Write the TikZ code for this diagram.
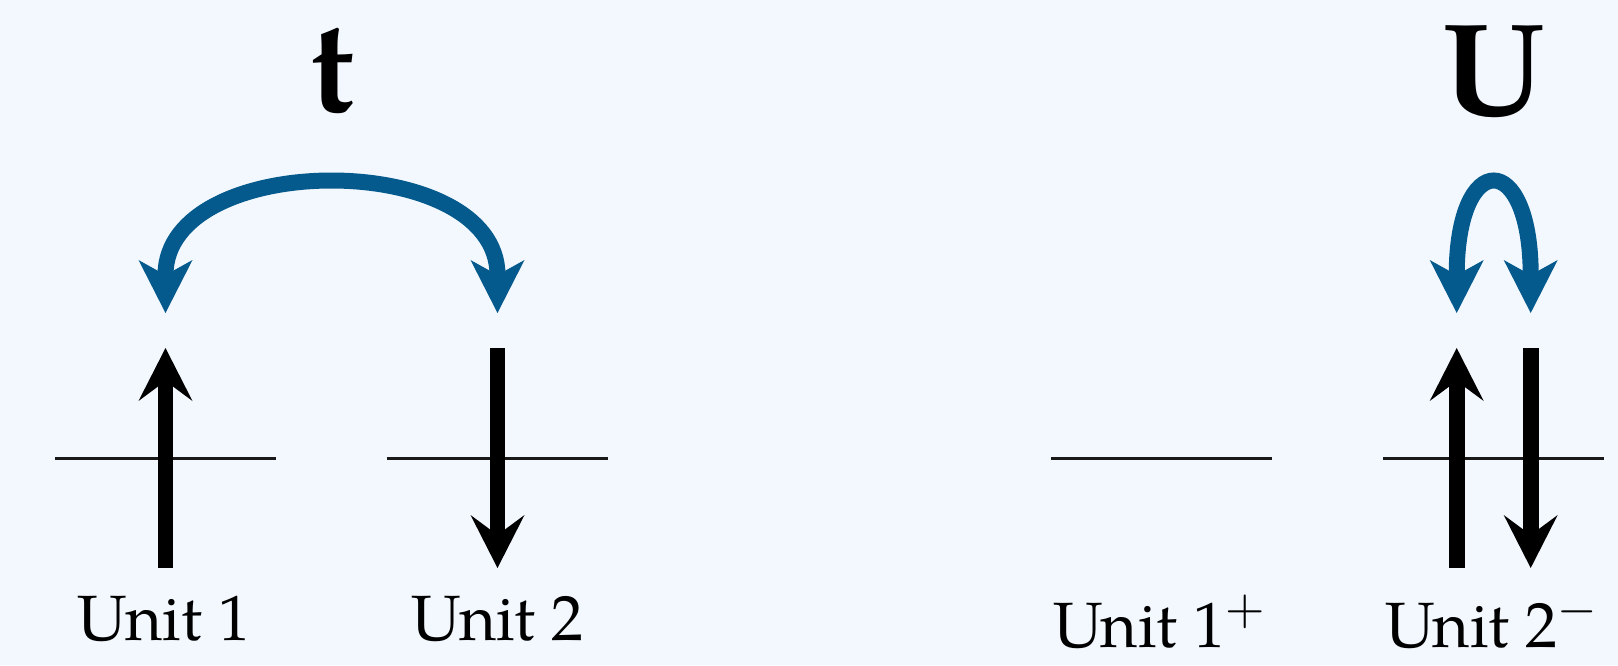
\documentclass[tikz,border=0pt]{standalone}
\usepackage{mathpazo}
\usepackage[no-math]{fontspec}
\setmainfont{TeX Gyre Pagella}
\usetikzlibrary{arrows.meta}
\definecolor{bgcol}{RGB}{243,248,254}
\definecolor{hopblue}{RGB}{4,90,141}
\begin{document}
\begin{tikzpicture}[x=0.5pt,y=-0.5pt,
  levelline/.style={line width=1.2pt,black!90},
  spin/.style={line width=7.8pt,-{Stealth[length=26.5pt,width=27pt,inset=10pt,line width=0pt]}},
  hop/.style={line width=8pt,hopblue,
    {Stealth[length=26.5pt,width=27pt,inset=7.5pt,line width=0pt]}-{Stealth[length=26.5pt,width=27pt,inset=7.5pt,line width=0pt]}},
  unitlabel/.style={anchor=base,inner sep=0pt,font=\fontsize{32}{38}\selectfont},
  biglabel/.style={anchor=base,inner sep=0pt,font=\fontsize{66}{72}\selectfont\bfseries}]
\fill[bgcol] (0,0) rectangle (1618,665);
\useasboundingbox (0,0) rectangle (1618,665);

% level end points
\coordinate (la1) at (55,458.3);   \coordinate (lb1) at (276,458.3);
\coordinate (la2) at (386.7,458.3); \coordinate (lb2) at (608,458.3);
\coordinate (la3) at (1051,458.3);  \coordinate (lb3) at (1272,458.3);
\coordinate (la4) at (1383,458.3);  \coordinate (lb4) at (1604,458.3);

% spin arrow end points
\coordinate (s1b) at (165.5,568);  \coordinate (s1t) at (165.5,348);
\coordinate (s2t) at (497.5,348);  \coordinate (s2b) at (497.5,568);
\coordinate (s3b) at (1456.7,568); \coordinate (s3t) at (1456.7,348);
\coordinate (s4t) at (1530.7,348); \coordinate (s4b) at (1530.7,568);

% hopping arrow end points
\coordinate (h1) at (165.5,313);  \coordinate (h2) at (497.5,313);
\coordinate (h3) at (1456.7,313); \coordinate (h4) at (1530.7,313);

\draw[levelline] (la1) -- (lb1);
\draw[levelline] (la2) -- (lb2);
\draw[levelline] (la3) -- (lb3);
\draw[levelline] (la4) -- (lb4);

\draw[spin] (s1b) -- (s1t);
\draw[spin] (s2t) -- (s2b);
\draw[spin] (s3b) -- (s3t);
\draw[spin] (s4t) -- (s4b);

\draw[hop] (h1) .. controls +(0,-164) and +(0,-164) .. (h2);
\draw[hop] (h3) .. controls +(0,-164) and +(0,-164) .. (h4);

\node[biglabel] (tlab) at (332,111) {t};
\node[biglabel] (ulab) at (1494,115) {U};

\node[unitlabel] (u1) at (164,640.7) {Unit 1};
\node[unitlabel] (u2) at (497.5,640.7) {Unit 2};
\node[unitlabel] (u3) at (1160,647.7) {Unit 1$^{+}$};
\node[unitlabel] (u4) at (1492,647.7) {Unit 2$^{-}$};
\end{tikzpicture}
\end{document}
